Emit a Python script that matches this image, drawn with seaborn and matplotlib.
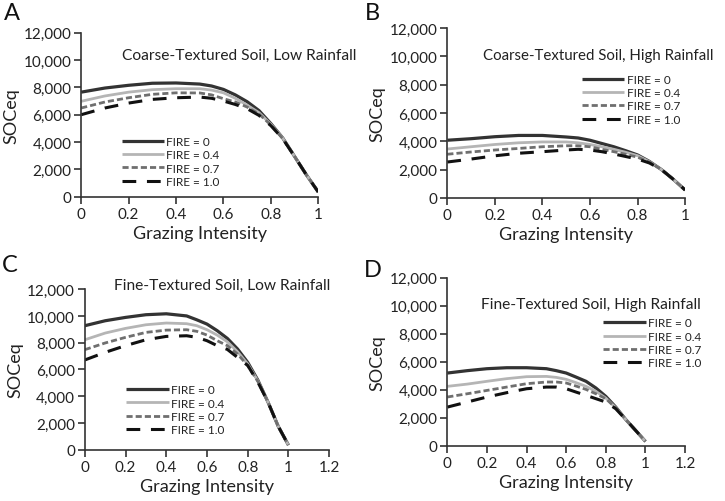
import numpy as np
import pandas as pd
import matplotlib
matplotlib.use("Agg")
import matplotlib.pyplot as plt
import seaborn as sns

sns.set_theme(style="ticks")
plt.rcParams['font.family'] = ['Lato', 'DejaVu Sans']

grazing = [0, 0.1, 0.2, 0.3, 0.4, 0.5, 0.55, 0.6, 0.65, 0.7, 0.75, 0.8, 0.85, 0.9, 0.95, 1.0]
fire_labels = ["FIRE = 0", "FIRE = 0.4", "FIRE = 0.7", "FIRE = 1.0"]

# Panel A: Coarse-Textured Soil, Low Rainfall
a_f0 = [7650, 7950, 8150, 8300, 8320, 8240, 8100, 7850, 7450, 6950, 6300, 5350, 4300, 2950, 1600, 350]
a_f04 = [6980, 7370, 7650, 7830, 7900, 7900, 7800, 7600, 7200, 6700, 6150, 5300, 4300, 2950, 1600, 350]
a_f07 = [6490, 6930, 7240, 7490, 7600, 7590, 7450, 7170, 6930, 6560, 6050, 5250, 4250, 2950, 1600, 350]
a_f10 = [6000, 6490, 6850, 7120, 7240, 7290, 7200, 7000, 6750, 6440, 5950, 5200, 4250, 2950, 1600, 350]

# Panel B: Coarse-Textured Soil, High Rainfall
b_f0 = [4070, 4180, 4320, 4410, 4410, 4300, 4230, 4070, 3840, 3610, 3330, 3030, 2570, 2000, 1310, 550]
b_f04 = [3450, 3610, 3770, 3890, 3950, 3950, 3890, 3770, 3610, 3430, 3220, 2980, 2550, 2000, 1310, 550]
b_f07 = [3080, 3240, 3380, 3490, 3610, 3680, 3680, 3610, 3430, 3260, 3080, 2870, 2520, 2000, 1310, 550]
b_f10 = [2530, 2740, 2970, 3150, 3260, 3380, 3430, 3380, 3260, 3100, 2920, 2740, 2460, 2000, 1310, 550]

# Panel C: Fine-Textured Soil, Low Rainfall
c_f0 = [9270, 9640, 9890, 10090, 10160, 10000, 9710, 9390, 8900, 8320, 7530, 6530, 5200, 3550, 1750, 350]
c_f04 = [8220, 8720, 9070, 9340, 9470, 9420, 9270, 8970, 8570, 8070, 7330, 6410, 5150, 3550, 1750, 350]
c_f07 = [7480, 7980, 8400, 8770, 8940, 8970, 8850, 8570, 8150, 7780, 7160, 6290, 5100, 3550, 1750, 350]
c_f10 = [6710, 7280, 7780, 8220, 8470, 8520, 8400, 8150, 7780, 7500, 6900, 6300, 5050, 3550, 1750, 350]

# Panel D: Fine-Textured Soil, High Rainfall
d_f0 = [5190, 5360, 5500, 5570, 5570, 5500, 5360, 5190, 4900, 4600, 4120, 3520, 2760, 1880, 1100, 310]
d_f04 = [4240, 4400, 4600, 4790, 4930, 4950, 4880, 4740, 4500, 4240, 3880, 3400, 2720, 1880, 1100, 310]
d_f07 = [3480, 3710, 3950, 4190, 4430, 4550, 4550, 4480, 4260, 4020, 3710, 3360, 2700, 1880, 1100, 310]
d_f10 = [2760, 3120, 3480, 3790, 4070, 4190, 4190, 4070, 3830, 3600, 3360, 3120, 2640, 1880, 1100, 310]

panel_titles = ["Coarse-Textured Soil, Low Rainfall", "Coarse-Textured Soil, High Rainfall",
                "Fine-Textured Soil, Low Rainfall", "Fine-Textured Soil, High Rainfall"]
panel_letters = ["A", "B", "C", "D"]
x_ticks_top = [0, 0.2, 0.4, 0.6, 0.8, 1]
x_ticks_bottom = [0, 0.2, 0.4, 0.6, 0.8, 1, 1.2]
y_ticks = [0, 2000, 4000, 6000, 8000, 10000, 12000]

series = [
    [a_f0, a_f04, a_f07, a_f10],
    [b_f0, b_f04, b_f07, b_f10],
    [c_f0, c_f04, c_f07, c_f10],
    [d_f0, d_f04, d_f07, d_f10],
]

styles = [
    dict(color="#333333", lw=2.3, dashes=None),
    dict(color="#b5b5b5", lw=2.0, dashes=None),
    dict(color="#6f6f6f", lw=2.0, dashes=(2.2, 1.1)),
    dict(color="#111111", lw=2.2, dashes=(4.5, 3.5)),
]

fig = plt.figure(figsize=(7.25, 5.02), dpi=100)
axes_rects = [
    [0.112, 0.606, 0.327, 0.327],
    [0.617, 0.604, 0.328, 0.338],
    [0.117, 0.102, 0.337, 0.320],
    [0.617, 0.110, 0.328, 0.335],
]
title_pos = [(0.17, 0.865), (0.15, 0.84), (0.12, 1.025), (0.14, 0.845)]
title_size = [11.2, 10.8, 11.2, 11.2]
legend_pos = [(0.17, 0.06), (0.565, 0.43), (0.17, 0.09), (0.655, 0.46)]
letter_pos = [(0.005, 0.995), (0.503, 0.995), (0.003, 0.493), (0.502, 0.482)]

for i in range(4):
    ax = fig.add_axes(axes_rects[i])
    handles = []
    for j, (vals, st) in enumerate(zip(series[i], styles)):
        df = pd.DataFrame({"Grazing Intensity": grazing, "SOCeq": vals})
        sns.lineplot(data=df, x="Grazing Intensity", y="SOCeq", ax=ax,
                     color=st["color"], lw=st["lw"], label=fire_labels[j], legend=False)
        line = ax.lines[-1]
        if st["dashes"] is not None:
            line.set_dashes(st["dashes"])
        line.set_solid_capstyle("butt")
        line.set_dash_capstyle("butt")
        line.set_solid_joinstyle("round")
        handles.append(line)
    top_row = i < 2
    if top_row:
        ax.set_xlim(0, 1)
        ax.set_xticks(x_ticks_top)
        ax.set_xticklabels([f"{t:g}" for t in x_ticks_top])
    else:
        ax.set_xlim(0, 1.2)
        ax.set_xticks(x_ticks_bottom)
        ax.set_xticklabels([f"{t:g}" for t in x_ticks_bottom])
    ax.set_ylim(0, 12000)
    ax.set_yticks(y_ticks)
    ax.set_yticklabels([f"{t:,}" for t in y_ticks])
    ax.tick_params(axis="both", direction="out", length=5, width=1.2, colors="#333333",
                   labelsize=11, labelcolor="#222222", pad=2)
    for s in ["top", "right"]:
        ax.spines[s].set_visible(False)
    for s in ["left", "bottom"]:
        ax.spines[s].set_color("#333333")
        ax.spines[s].set_linewidth(1.2)
    ax.set_xlabel("Grazing Intensity", fontsize=13, color="#222222", labelpad=3)
    ax.set_ylabel("SOCeq", fontsize=13, color="#222222", labelpad=3)
    tx, ty = title_pos[i]
    ax.text(tx, ty, panel_titles[i], transform=ax.transAxes, fontsize=title_size[i],
            ha="left", va="center", color="#222222", clip_on=False)
    lx, ly = legend_pos[i]
    leg = ax.legend(handles=handles, labels=fire_labels, loc="lower left",
                    bbox_to_anchor=(lx, ly), frameon=False, fontsize=8.5,
                    handlelength=3.6, handletextpad=0.2, labelspacing=0.2,
                    borderaxespad=0, borderpad=0)
    for t in leg.get_texts():
        t.set_color("#222222")
    fig.text(letter_pos[i][0], letter_pos[i][1], panel_letters[i], fontsize=17,
             ha="left", va="top", color="#111111")

fig.savefig("out.png", dpi=100)
